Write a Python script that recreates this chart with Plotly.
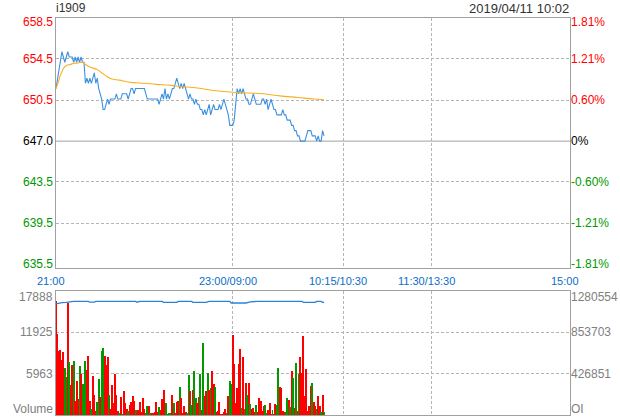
import plotly.graph_objects as go

# ---------------- data ----------------
symbol = "i1909"
stamp = "2019/04/11 10:02"

X_RANGE = [0, 349]
x_tick_minutes = [0, 120, 195, 255, 349]
x_tick_labels = ["21:00", "23:00/09:00", "10:15/10:30", "11:30/13:30", "15:00"]
x_grid_minutes = [120, 195, 255]

pre_close = 647.0
pct_levels = [1.81, 1.21, 0.60, 0.0, -0.60, -1.21, -1.81]
price_labels = ["658.5", "654.5", "650.5", "647.0", "643.5", "639.5", "635.5"]
pct_labels = ["1.81%", "1.21%", "0.60%", "0%", "-0.60%", "-1.21%", "-1.81%"]

prices = [
    652.0, 653.0, 654.0, 654.5, 655.5, 655.0, 654.5, 655.0, 655.5, 655.0,
    655.0, 655.0, 654.5, 655.0, 654.5, 655.0, 654.5, 655.0, 654.5, 654.5,
    652.5, 653.0, 652.5, 653.0, 652.5, 653.0, 653.5, 652.5, 653.0, 652.0,
    651.5, 651.0, 650.0, 650.0, 650.5, 651.0, 650.5, 651.0, 651.0, 651.0,
    651.0, 651.5, 651.0, 651.0, 651.0, 651.5, 651.5, 651.5, 651.5, 651.0,
    651.5, 652.0, 652.0, 651.5, 652.0, 652.0, 652.0, 652.0, 652.0, 652.0,
    652.0, 651.5, 651.0, 651.0, 651.0, 651.0, 651.0, 651.0, 651.0, 651.0,
    650.5, 651.0, 651.5, 651.0, 652.0, 651.0, 651.5, 651.0, 651.5, 652.0,
    652.0, 652.5, 653.0, 652.5, 652.0, 652.5, 652.0, 652.5, 652.0, 651.5,
    651.0, 651.5, 651.0, 651.0, 650.5, 651.0, 650.5, 650.5, 650.0, 650.0,
    649.5, 650.0, 649.5, 650.0, 650.5, 649.5, 650.0, 650.5, 650.0, 650.0,
    650.0, 650.5, 650.0, 650.5, 651.0, 650.5, 650.0, 649.5, 648.5, 648.5,
    648.5, 649.0, 651.0, 652.0, 651.5, 652.0, 651.5, 652.0, 651.5, 651.0,
    651.0, 650.5, 650.5, 651.0, 651.5, 651.0, 650.5, 650.5, 650.5, 650.5,
    651.0, 651.0, 650.5, 651.0, 650.0, 650.5, 651.0, 650.5, 650.0, 650.0,
    649.5, 649.5, 649.5, 649.5, 650.0, 649.5, 649.5, 649.0, 649.0, 649.0,
    648.5, 648.5, 648.0, 648.0, 647.5, 647.5, 647.0, 647.0, 647.0, 647.0,
    647.5, 648.0, 648.0, 648.0, 647.5, 647.5, 647.5, 647.0, 647.5, 647.0,
    647.0, 648.0, 647.5,
]

avg_minutes = [0, 2, 3, 4, 5, 7, 10, 12, 14, 18, 21, 24, 28, 31, 35, 38, 43, 50,
               60, 68, 78, 84, 96, 107, 118, 130, 141, 152, 164, 175, 182]
avg_prices = [652.0, 652.8, 653.3, 653.6, 653.9, 654.2, 654.3, 654.4, 654.4, 654.5,
              654.2, 654.0, 653.8, 653.5, 653.1, 652.9, 652.8, 652.6,
              652.5, 652.4, 652.3, 652.2, 652.05, 651.82, 651.67, 651.57, 651.5,
              651.3, 651.15, 651.0, 650.93]

volumes = [
    16440, 11660, 9270, 9370, 7930, 9080, 6790, 5540, 16150, 7740,
    4350, 7210, 7790, 2050, 4920, 2340, 7070, 5930, 4490, 2630,
    7790, 6500, 8510, 2050, 910, 5640, 2920, 620, 1910, 5210,
    2630, 9220, 9650, 8510, 7210, 8360, 2920, 910, 4350, 1770,
    5930, 2920, 620, 330, 2630, 190, 3490, 1770, 910, 620,
    1480, 1910, 2770, 2050, 760, 330, 760, 1910, 480, 2480,
    910, 330, 1340, 1340, 330, 330, 330, 480, 1910, 480,
    1190, 760, 2340, 3630, 760, 1770, 190, 330, 330, 2920,
    1770, 330, 1910, 2050, 4060, 2480, 330, 1340, 480, 330,
    5780, 3490, 1480, 3630, 6350, 2480, 1770, 2630, 5930, 760,
    10370, 2770, 3490, 6070, 3630, 3920, 6350, 4490, 4060, 480,
    620, 1910, 190, 190, 480, 910, 330, 2770, 4920, 4490,
    11510, 7360, 1770, 3920, 7360, 9510, 1050, 8360, 910, 4630,
    2920, 4630, 1620, 910, 1050, 480, 1480, 480, 2480, 2050,
    620, 1340, 1480, 330, 760, 1770, 190, 760, 190, 1620,
    1480, 6790, 4060, 3920, 620, 480, 480, 2480, 2200, 1190,
    6350, 5350, 1050, 7500, 620, 5930, 8360, 6070, 11370, 2770,
    6640, 620, 1340, 4200, 4630, 1910, 1340, 910, 2770, 1340,
    480, 2920, 480,
]
vol_dirs = list(
    "rrrrrrggrg" "rrgrrrgrgg" "grrrgrrrgg" "rggrrrgrrr" "rrrgrgrrrg"
    "rrrrgrrrrr" "rggrgrrrrr" "grrrrggggr" "grrrgrrrrg" "grgrggrrgr"
    "grrgrgrrgr" "rrrrrrgrgg" "rrrrrrgrgr" "grgrrrgrrr" "rrggrrrgrr"
    "ggrrrrggrg" "rgrgrgrrrr" "rrrrgrrgrr" "grg"
)

oi_minutes = [0, 1, 2, 4, 7, 10, 12, 22, 23, 26, 27, 54, 55, 57, 72, 73, 82, 83,
              92, 93, 102, 104, 118, 119, 129, 132, 137, 167, 168, 176, 177, 180, 181, 182]
oi_values = [1142000, 1147000, 1150000, 1155000, 1159000, 1162000, 1169000, 1169000,
             1160000, 1160000, 1169000, 1169000, 1160000, 1169000, 1169000, 1159000,
             1159000, 1169000, 1169000, 1159000, 1159000, 1169000, 1169000, 1152000,
             1152000, 1163000, 1169000, 1169000, 1159000, 1159000, 1169000, 1169000,
             1159000, 1159000]

vol_tick_vals = [17888, 11925, 5963, 0]
vol_tick_labels = ["17888", "11925", "5963", "Volume"]
oi_tick_vals = [1280554, 853703, 426851, 0]
oi_tick_labels = ["1280554", "853703", "426851", "OI"]

# ---------------- styling ----------------
FONT = "Liberation Sans, Arial, sans-serif"
RED = "#ff0000"
GREEN = "#009900"
FRAME = "#a0a0a0"
GRID = "#b4b4b4"
XLAB = "#0a6ec8"
GRAYTXT = "#808080"

price_top = pre_close * (1 + pct_levels[0] / 100)
price_bottom = 634.9
level_prices = [pre_close * (1 + p / 100) for p in pct_levels]

fig = go.Figure()

minutes = list(range(len(prices)))
fig.add_trace(go.Scatter(x=minutes, y=prices, mode="lines",
                         line=dict(color="#3c90e0", width=1.1),
                         xaxis="x", yaxis="y", hoverinfo="skip"))
fig.add_trace(go.Scatter(x=avg_minutes, y=avg_prices, mode="lines",
                         line=dict(color="#f8b020", width=1.1, shape="spline"),
                         xaxis="x", yaxis="y", hoverinfo="skip"))

bar_colors = [RED if d == "r" else GREEN for d in vol_dirs]
fig.add_trace(go.Bar(x=list(range(len(volumes))), y=volumes, width=0.68,
                     marker=dict(color=bar_colors, line=dict(width=0)),
                     xaxis="x2", yaxis="y2", hoverinfo="skip"))
fig.add_trace(go.Scatter(x=oi_minutes, y=oi_values, mode="lines",
                         line=dict(color="#2a82d8", width=1.3),
                         xaxis="x2", yaxis="y3", hoverinfo="skip"))

TOP_DOM = [0.3695, 1.0]
BOT_DOM = [0.0, 0.3136]

axis_common = dict(showline=True, linecolor=FRAME, linewidth=1, mirror=True,
                   zeroline=False, showticklabels=False, ticks="")

fig.update_layout(
    width=620, height=420,
    margin=dict(l=56, r=50, t=18, b=5),
    paper_bgcolor="white", plot_bgcolor="white",
    showlegend=False, bargap=0,
    font=dict(family=FONT, size=12),
    xaxis=dict(domain=[0, 1], anchor="y", range=X_RANGE,
               tickvals=x_grid_minutes, showgrid=True, gridcolor=GRID,
               griddash="3px,2px", gridwidth=1, **axis_common),
    yaxis=dict(domain=TOP_DOM, anchor="x", range=[price_bottom, price_top],
               tickvals=[v for v, p in zip(level_prices, pct_levels) if 0 < abs(p) < 1.8],
               showgrid=True, gridcolor=GRID, griddash="3px,2px", gridwidth=1,
               **axis_common),
    xaxis2=dict(domain=[0, 1], anchor="y2", range=X_RANGE,
                tickvals=x_grid_minutes, showgrid=True, gridcolor=GRID,
                griddash="3px,2px", gridwidth=1, **axis_common),
    yaxis2=dict(domain=BOT_DOM, anchor="x2", range=[0, vol_tick_vals[0]],
                tickvals=vol_tick_vals[1:3], showgrid=True, gridcolor=GRID,
                griddash="3px,2px", gridwidth=1, **axis_common),
    yaxis3=dict(overlaying="y2", side="right", anchor="x2",
                range=[0, oi_tick_vals[0]], showgrid=False, showline=False,
                zeroline=False, showticklabels=False),
)

# solid pre-close line
fig.add_shape(type="line", xref="x", yref="y", x0=X_RANGE[0], x1=X_RANGE[1],
              y0=pre_close, y1=pre_close, line=dict(color=FRAME, width=1), layer="below")

ann = []


def level_color(p):
    if p > 0:
        return RED
    if p < 0:
        return GREEN
    return "#000000"


for i, (lv, p, lt, pt) in enumerate(zip(level_prices, pct_levels, price_labels, pct_labels)):
    ys = -4 if i == 0 else 0
    for xx, xa, txt in ((0, "right", lt), (1, "left", pt)):
        ann.append(dict(xref="paper", yref="y", x=xx, y=lv, xanchor=xa,
                        yanchor="middle", yshift=ys, xshift=-1, text=txt,
                        showarrow=False,
                        font=dict(family=FONT, size=12, color=level_color(p))))


def edge_shift(i, count):
    if i == 0:
        return -6
    if i == count - 1:
        return 6.5
    return 0


for i, (v, t) in enumerate(zip(vol_tick_vals, vol_tick_labels)):
    ann.append(dict(xref="paper", yref="y2", x=0, y=v, xanchor="right", yanchor="middle",
                    yshift=edge_shift(i, len(vol_tick_vals)), xshift=-1, text=t,
                    showarrow=False, font=dict(family=FONT, size=12, color=GRAYTXT)))
for i, (v, t) in enumerate(zip(oi_tick_vals, oi_tick_labels)):
    ann.append(dict(xref="paper", yref="y3", x=1, y=v, xanchor="left", yanchor="middle",
                    yshift=edge_shift(i, len(oi_tick_vals)), xshift=-1, text=t,
                    showarrow=False, font=dict(family=FONT, size=12, color=GRAYTXT)))

for m, t in zip(x_tick_minutes, x_tick_labels):
    ann.append(dict(xref="x", yref="paper", x=m, y=0.3375, xanchor="center",
                    yanchor="middle", xshift=-5, text=t, showarrow=False,
                    font=dict(family=FONT, size=11, color=XLAB)))

ann.append(dict(xref="paper", yref="paper", x=0, y=1, xanchor="left", yanchor="middle",
                yshift=10, xshift=-2, text=symbol, showarrow=False,
                font=dict(family=FONT, size=12, color="#333333")))
ann.append(dict(xref="paper", yref="paper", x=1, y=1, xanchor="right", yanchor="middle",
                yshift=10, xshift=1, text=stamp, showarrow=False,
                font=dict(family=FONT, size=13, color="#333333")))

fig.update_layout(annotations=ann)

fig.write_html(
    "out.html",
    config={"displayModeBar": False},
    post_script="document.body.style.margin='0';document.body.style.padding='0';"
                "document.body.style.overflow='hidden';",
)
